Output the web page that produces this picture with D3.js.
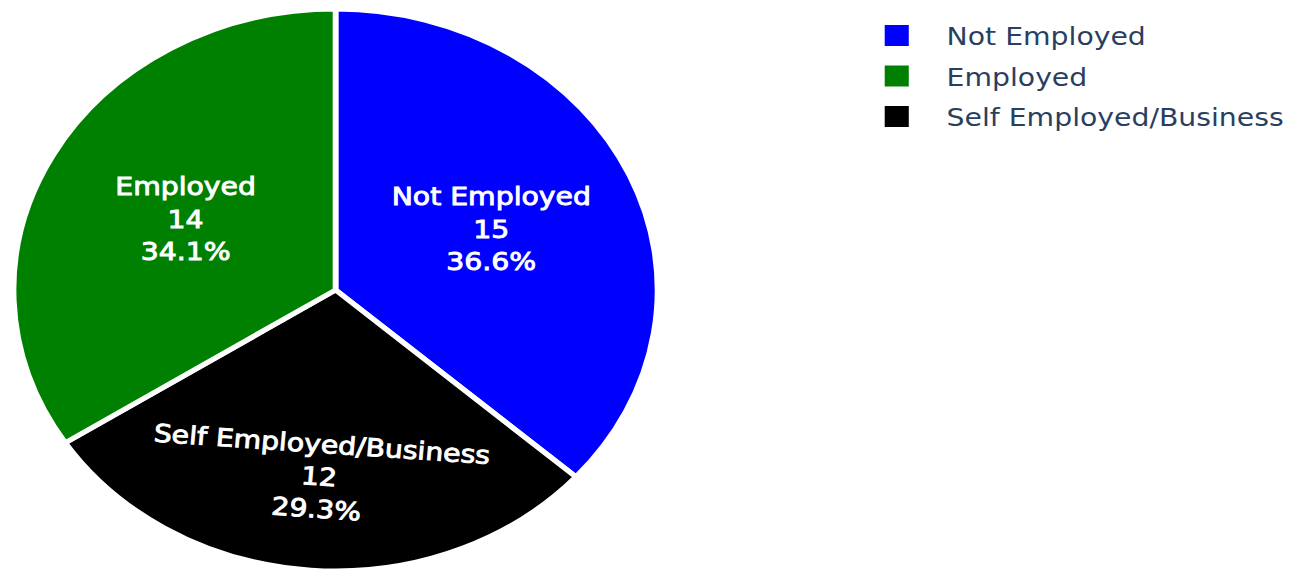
<!DOCTYPE html>
<html>
<head>
<meta charset="utf-8">
<script src="https://cdn.jsdelivr.net/npm/d3@7"></script>
<style>
  html, body { margin: 0; padding: 0; background: #fff; }
  svg { display: block; }
  text { font-family: "DejaVu Sans", Verdana, sans-serif; }
</style>
</head>
<body>
<svg id="chart" width="1308" height="575"></svg>
<script>
// ---- data (clockwise order from 12 o'clock) ----
const categories = ["Not Employed", "Self Employed/Business", "Employed"];
const values = [15, 12, 14];
const colors = ["#0000ff", "#000000", "#008000"];
// legend order
const legendOrder = ["Not Employed", "Employed", "Self Employed/Business"];

// ---- layout ----
const W = 1308, H = 575;
const sx = 1.146;            // horizontal stretch of the reference
const cx = 292.8, cy = 290, R = 281;
const fontSize = 24.7, lineH = 32.5;

const svg = d3.select("#chart");
const root = svg.append("g").attr("transform", `scale(${sx},1)`);

const color = d3.scaleOrdinal().domain(categories).range(colors);
const total = d3.sum(values);
const data = categories.map((c, i) => ({ label: c, value: values[i] }));

const pie = d3.pie().value(d => d.value).sort(null);
const arcs = pie(data);
const arc = d3.arc().innerRadius(0).outerRadius(R);

const g = root.append("g").attr("transform", `translate(${cx},${cy})`);

g.selectAll("path.slice")
  .data(arcs)
  .join("path")
  .attr("class", "slice")
  .attr("d", arc)
  .attr("fill", d => color(d.data.label))
  .attr("stroke", "#fff")
  .attr("stroke-width", 5)
  .attr("stroke-linejoin", "miter");

// labels: horizontal when the slice is wide, tangential otherwise
const wideArc = d3.arc().innerRadius(0).outerRadius(R * 0.53 * 2);
const narrowArc = d3.arc().innerRadius(0).outerRadius(R * 0.665 * 2);

const labels = g.selectAll("g.lbl")
  .data(arcs)
  .join("g")
  .attr("class", "lbl")
  .attr("transform", d => {
    const span = (d.endAngle - d.startAngle) * 180 / Math.PI;
    if (span >= 110) {
      const [x, y] = wideArc.centroid(d);
      return `translate(${x},${y})`;
    } else {
      const [x, y] = narrowArc.centroid(d);
      const mid = ((d.startAngle + d.endAngle) / 2) * 180 / Math.PI;
      return `translate(${x},${y}) rotate(${mid - 180})`;
    }
  });

labels.each(function(d) {
  const lines = [d.data.label, String(d.data.value), (d.data.value / total * 100).toFixed(1) + "%"];
  const sel = d3.select(this);
  lines.forEach((t, i) => {
    sel.append("text")
      .attr("x", 0)
      .attr("y", (i - 1) * lineH + fontSize * 0.36)
      .attr("text-anchor", "middle")
      .attr("fill", "#fff")
      .attr("font-size", fontSize)
      .attr("stroke", "#fff")
      .attr("stroke-width", 0.9)
      .text(t);
  });
});

// ---- legend ----
const legend = root.append("g").attr("transform", "translate(772,25)");
const li = legend.selectAll("g.item")
  .data(legendOrder)
  .join("g")
  .attr("class", "item")
  .attr("transform", (d, i) => `translate(0,${i * 40.5})`);
li.append("rect")
  .attr("x", 0).attr("y", 0)
  .attr("width", 21).attr("height", 21)
  .attr("fill", d => color(d));
li.append("text")
  .attr("x", 54)
  .attr("y", 20)
  .attr("font-size", fontSize)
  .attr("fill", "#2a3f5f")
  .text(d => d);
</script>
</body>
</html>
